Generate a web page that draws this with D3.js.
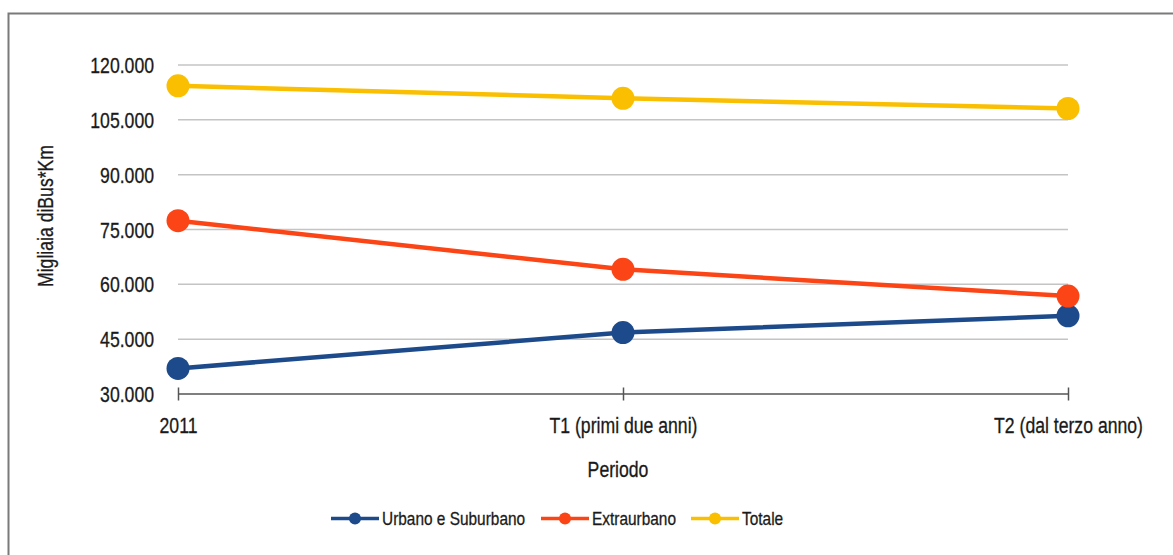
<!DOCTYPE html>
<html>
<head>
<meta charset="utf-8">
<script src="https://cdn.jsdelivr.net/npm/d3@7"></script>
<style>
  html, body { margin: 0; padding: 0; background: #fff; }
  svg { display: block; }
  text { font-family: "Liberation Sans", Arial, Helvetica, sans-serif; fill: #1a1a1a; stroke: #1a1a1a; stroke-width: 0.3px; }
</style>
</head>
<body>
<svg id="chart" width="1173" height="555"></svg>
<script>
// Periods on the horizontal axis
const periods = ["2011", "T1 (primi due anni)", "T2 (dal terzo anno)"];

// Thousands of bus-km per service type
const urbano = [37.0, 46.8, 51.4];
const extraurbano = [77.4, 64.1, 56.8];
const totale = [114.3, 110.9, 108.1];

const seriesNames = ["Urbano e Suburbano", "Extraurbano", "Totale"];
const seriesColors = ["#1d4a8a", "#fb4516", "#f9bf00"];

// Y tick values (thousands, printed with Italian separators)
const yTicks = [30, 45, 60, 75, 90, 105, 120];

const series = [urbano, extraurbano, totale].map((vals, i) => ({
  name: seriesNames[i], color: seriesColors[i],
  points: vals.map((v, j) => ({ period: periods[j], value: v }))
}));

const svg = d3.select("#chart");
const SX = 0.82; // horizontal squeeze giving a narrow Helvetica look

// outer frame
svg.append("rect")
  .attr("x", 8.5).attr("y", 13.5).attr("width", 1300).attr("height", 700)
  .attr("fill", "none").attr("stroke", "#7a7a7a").attr("stroke-width", 2);

const x = d3.scalePoint().domain(periods).range([178, 1068]);
const y = d3.scaleLinear().domain([30, 120]).range([394, 65]);

const itFmt = v => v.toFixed(3);

// horizontal gridlines
const grid = svg.append("g");
grid.selectAll("line").data(yTicks.filter(t => t !== 30)).join("line")
  .attr("x1", x.range()[0]).attr("x2", x.range()[1])
  .attr("y1", d => y(d)).attr("y2", d => y(d))
  .attr("stroke", "#c4c4c4").attr("stroke-width", 1.5);

// y axis labels
const yAxis = svg.append("g").attr("transform", `translate(${x.range()[0]},0)`)
  .call(d3.axisLeft(y).tickValues(yTicks).tickSize(0).tickFormat(itFmt));
yAxis.select(".domain").remove();
yAxis.selectAll(".tick text")
  .attr("x", null).attr("dy", null)
  .attr("transform", `translate(-24,7.5) scale(${SX},1)`)
  .attr("text-anchor", "end")
  .style("font-size", "21.5px").style("font-family", "Liberation Sans, Arial, sans-serif")
  .attr("fill", "#1a1a1a");

// x axis baseline with ticks
const xAxis = svg.append("g").attr("transform", `translate(0,${y(30)})`)
  .call(d3.axisBottom(x).tickSize(6).tickSizeOuter(0));
xAxis.select(".domain")
  .attr("d", `M${x.range()[0]},0H${x.range()[1]}`)
  .attr("stroke", "#555").attr("stroke-width", 1.5);
xAxis.selectAll(".tick line")
  .attr("y1", -6.5).attr("y2", 6.5)
  .attr("stroke", "#555").attr("stroke-width", 1.5);
xAxis.selectAll(".tick text")
  .attr("y", null).attr("dy", null)
  .attr("transform", `translate(0,39) scale(${SX},1)`)
  .attr("text-anchor", "middle")
  .style("font-size", "21.5px").style("font-family", "Liberation Sans, Arial, sans-serif")
  .attr("fill", "#1a1a1a");

// axis titles
svg.append("text")
  .attr("transform", `translate(53,216) rotate(-90) scale(${SX},1)`)
  .attr("text-anchor", "middle").style("font-size", "21.5px")
  .text("Migliaia diBus*Km");
svg.append("text")
  .attr("transform", `translate(618,477) scale(${SX},1)`)
  .attr("text-anchor", "middle").style("font-size", "21.5px")
  .text("Periodo");

// lines and markers
const line = d3.line().x(d => x(d.period)).y(d => y(d.value));
const sg = svg.append("g").selectAll("g").data(series).join("g");
sg.append("path")
  .attr("d", d => line(d.points))
  .attr("fill", "none").attr("stroke", d => d.color)
  .attr("stroke-width", 4.5).attr("stroke-linejoin", "round");
sg.selectAll("circle").data(d => d.points.map(p => ({ ...p, color: d.color }))).join("circle")
  .attr("cx", d => x(d.period)).attr("cy", d => y(d.value))
  .attr("r", 11.5).attr("fill", d => d.color);

// legend
const legendX = [331, 541, 691];
const lg = svg.append("g").selectAll("g").data(series).join("g")
  .attr("transform", (d, i) => `translate(${legendX[i]},518.5)`);
lg.append("line").attr("x1", 0).attr("x2", 48)
  .attr("stroke", d => d.color).attr("stroke-width", 3.5);
lg.append("circle").attr("cx", 24).attr("r", 6).attr("fill", d => d.color);
lg.append("text")
  .attr("transform", `translate(51,6.8) scale(${SX},1)`)
  .style("font-size", "18.8px")
  .text(d => d.name);
</script>
</body>
</html>
